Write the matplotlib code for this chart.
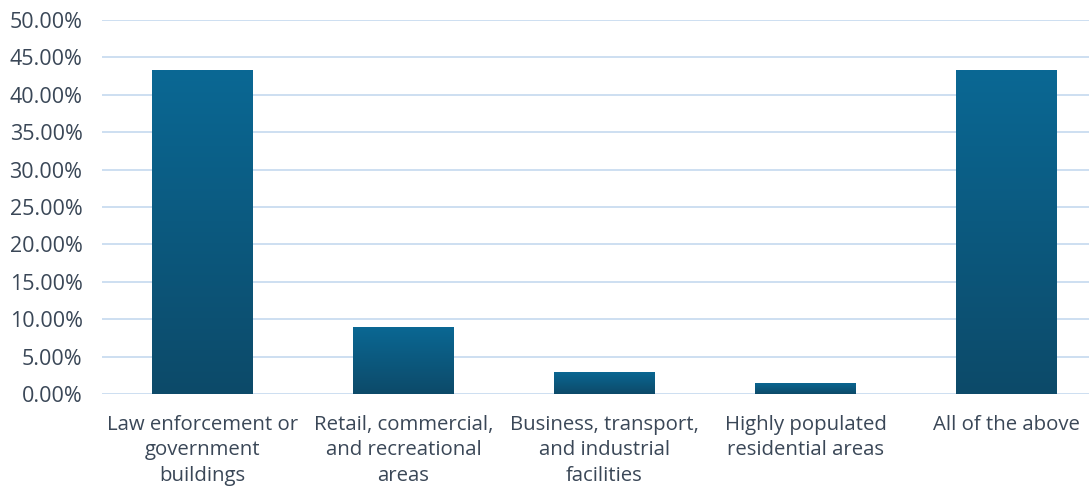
import numpy as np
import matplotlib.pyplot as plt
from matplotlib.colors import LinearSegmentedColormap
from matplotlib.ticker import FuncFormatter

plt.rcParams['font.family'] = ['Open Sans', 'DejaVu Sans']

categories = [
    "Law enforcement or\ngovernment\nbuildings",
    "Retail, commercial,\nand recreational\nareas",
    "Business, transport,\nand industrial\nfacilities",
    "Highly populated\nresidential areas",
    "All of the above",
]
shares = [43.28, 8.96, 2.99, 1.49, 43.28]

text_col = "#3a4757"
grid_col = "#c9dcf0"
bar_cmap = LinearSegmentedColormap.from_list("bar", ["#0d4a69", "#0a6894"])

fig = plt.figure(figsize=(10.89, 4.88), dpi=100)
# axes run a little past the right edge of the figure
ax = fig.add_axes([102 / 1089, 94 / 488, 1005 / 1089, 374 / 488])

x = np.arange(len(categories))
bars = ax.bar(x, shares, width=0.5, color="none", zorder=3)

# vertical gradient fill clipped to each bar
grad = np.linspace(0, 1, 256).reshape(-1, 1)
for b in bars:
    x0, w, h = b.get_x(), b.get_width(), b.get_height()
    im = ax.imshow(grad, cmap=bar_cmap, origin="lower", aspect="auto",
                   extent=[x0, x0 + w, 0, h], zorder=3)
    im.set_clip_path(b)

ax.set_xlim(-0.5, len(categories) - 0.5)
ax.set_ylim(0, 50)
ax.set_yticks(np.arange(0, 50.1, 5))
ax.yaxis.set_major_formatter(FuncFormatter(lambda v, p: f"{v:.2f}%"))
ax.set_xticks(x)
ax.set_xticklabels(categories, linespacing=1.36)

ax.grid(axis="y", color=grid_col, linewidth=1.3, zorder=0)
for s in ax.spines.values():
    s.set_visible(False)
ax.tick_params(length=0, labelsize=14.7, colors=text_col)
ax.tick_params(axis="y", pad=14, labelsize=15.5)
ax.tick_params(axis="x", pad=15)

fig.savefig("out.png", dpi=100)
